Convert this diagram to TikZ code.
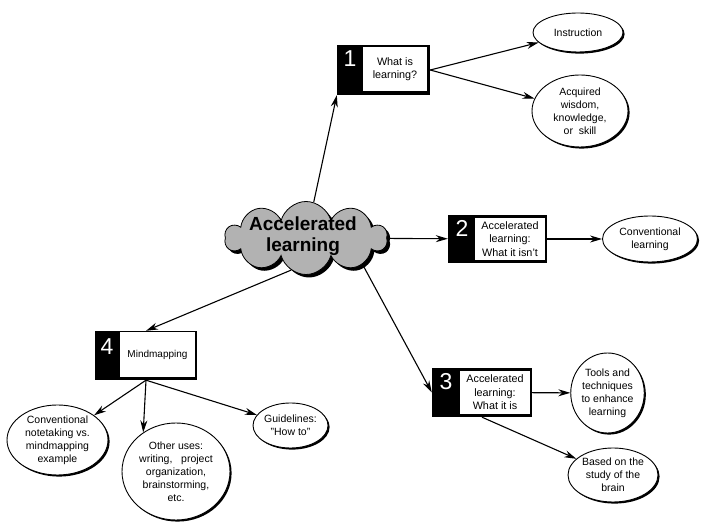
\documentclass[tikz,border=0pt]{standalone}
\usepackage{fontspec}
\setmainfont{Liberation Sans}
\usetikzlibrary{shapes.symbols,shapes.geometric,arrows.meta,shadows}
\begin{document}
\begin{tikzpicture}[x=1pt,y=1pt,
  kbox/.style={fill=black,inner sep=0pt},
  wbox/.style={fill=white,inner sep=1pt,align=center,font=\fontsize{10.8}{13.5}\selectfont},
  num/.style={text=white,font=\fontsize{23}{23}\selectfont,inner sep=0pt},
  oval/.style={ellipse,draw,line width=0.9pt,fill=white,inner sep=0pt,align=center,
    font=\fontsize{10.5}{13}\selectfont,
    drop shadow={shadow xshift=1.6pt,shadow yshift=-1.6pt,fill=black,opacity=1}},
  arr/.style={-{Stealth[length=12pt,width=7pt]},line width=1.1pt}]
\useasboundingbox (0,0) rectangle (707,524);

% central cloud
\node[cloud, cloud puffs=10, cloud ignores aspect, minimum width=162, minimum height=73,
  fill=gray!60, draw=black, line width=0.8pt,
  drop shadow={shadow xshift=3pt,shadow yshift=-3pt,fill=black,opacity=1}] (cl) at (306,286) {};
\node[font=\bfseries\fontsize{19}{21}\selectfont,align=center,inner sep=0pt] (clt) at (303,288) {Accelerated\\learning};

% box 1
\node[kbox,minimum width=93,minimum height=50] (k1) at (383.5,454) {};
\node[wbox,minimum width=64,minimum height=44] (b1) at (395,455) {What is\\learning?};
\node[num] (n1) at (350,465.5) {1};

% box 2
\node[kbox,minimum width=99,minimum height=48] (k2) at (497.5,285) {};
\node[wbox,minimum width=70,minimum height=42] (b2) at (510,285) {Accelerated\\learning:\\What it isn't};
\node[num] (n2) at (462,296) {2};

% box 3
\node[kbox,minimum width=100,minimum height=49] (k3) at (482,131.5) {};
\node[wbox,minimum width=70,minimum height=43] (b3) at (495,131.5) {Accelerated\\learning:\\What it is};
\node[num] (n3) at (446,142.5) {3};

% box 4
\node[kbox,minimum width=102,minimum height=49] (k4) at (146,168.5) {};
\node[wbox,minimum width=75,minimum height=45,font=\fontsize{10}{13}\selectfont] (b4) at (157.5,169.5) {Mindmapping};
\node[num] (n4) at (107,177) {4};

% ellipses
\node[oval,minimum width=90,minimum height=39] (ins) at (578,491.5) {Instruction};
\node[oval,minimum width=96,minimum height=72] (acq) at (580,413) {Acquired\\wisdom,\\knowledge,\\or\ \ skill};
\node[oval,minimum width=95,minimum height=46] (conv) at (650,285) {Conventional\\learning};
\node[oval,minimum width=71,minimum height=80] (tools) at (607.5,131) {Tools and\\techniques\\to enhance\\learning};
\node[oval,minimum width=90,minimum height=54] (based) at (613,49) {Based on the\\study of the\\brain};
\node[oval,minimum width=101,minimum height=70] (nt) at (57.5,84) {Conventional\\notetaking vs.\\mindmapping\\example};
\node[oval,minimum width=108,minimum height=97] (oth) at (176,52.5) {Other uses:\\writing,\ \ \ project\\organization,\\brainstorming,\\etc.};
\node[oval,minimum width=75,minimum height=45] (gd) at (290.5,98.5) {Guidelines:\\"How to"};

% connectors
\draw[arr] (cl) -- (k1.south west);
\draw[arr] (k1.east) -- (ins);
\draw[arr] (k1.east) -- (acq);
\draw[arr] (cl) -- (k2);
\draw[arr] (k2) -- (conv);
\draw[arr] (cl.-25) -- (k3.west);
\draw[arr] (k3) -- (tools);
\draw[arr] (k3.south) -- (based);
\draw[arr] (cl.245) -- (k4.north);
\draw[arr] (k4.south) -- (nt);
\draw[arr] (k4.south) -- (oth.130);
\draw[arr] (k4.south) -- (gd);
\end{tikzpicture}
\end{document}
